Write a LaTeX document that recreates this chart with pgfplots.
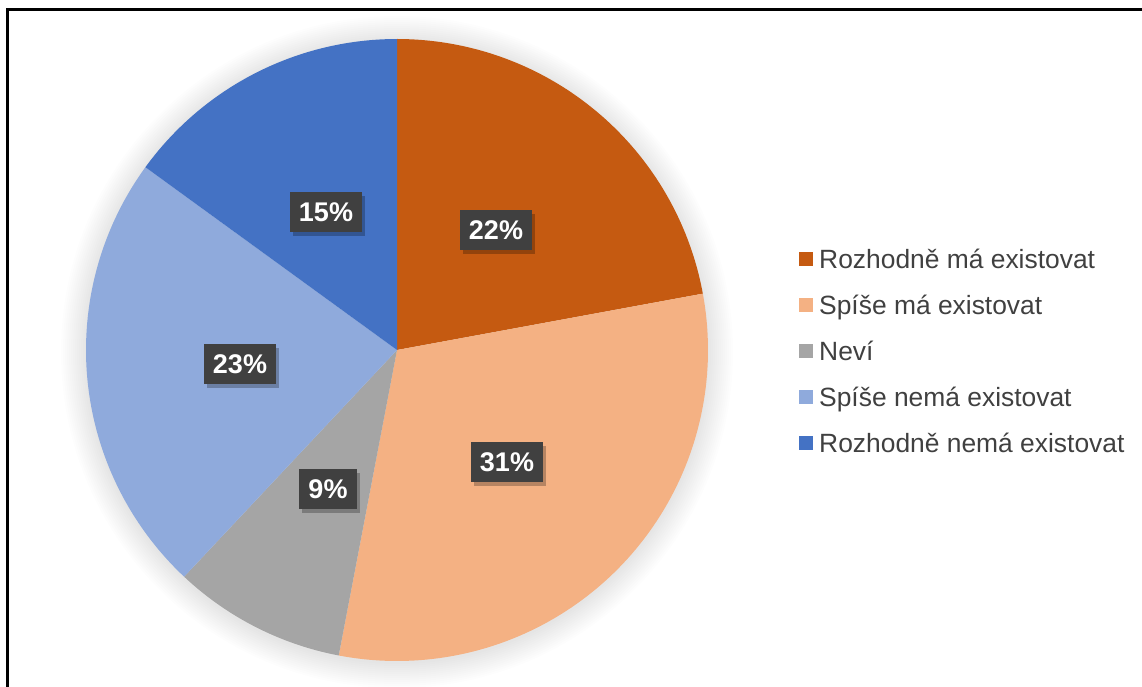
\documentclass[border=0pt]{standalone}
\usepackage{pgfplots}
\pgfplotsset{compat=1.18}
\usepackage{fontspec}
\setmainfont{Liberation Sans}
\usetikzlibrary{shadows}
\definecolor{cA}{HTML}{C55A11}
\definecolor{cB}{HTML}{F4B183}
\definecolor{cC}{HTML}{A5A5A5}
\definecolor{cD}{HTML}{8FAADC}
\definecolor{cE}{HTML}{4472C4}
\definecolor{txt}{HTML}{404040}
\definecolor{lbl}{HTML}{404040}
% values (percent)
\def\vA{22.1}\def\vB{30.9}\def\vC{9.0}\def\vD{23.0}\def\vE{15.0}
\newcommand{\pieslice}[4]{%
  \addplot[draw=none, fill=#1, domain=#2:#3, samples=90]
    ({397+311*cos(x)},{336+311*sin(x)}) -- (axis cs:397,336) -- cycle;
  \addlegendentry{#4}
}
\begin{document}
\begin{tikzpicture}
\pgfmathsetmacro\aA{90}
\pgfmathsetmacro\aB{\aA-3.6*\vA}
\pgfmathsetmacro\aC{\aB-3.6*\vB}
\pgfmathsetmacro\aD{\aC-3.6*\vC}
\pgfmathsetmacro\aE{\aD-3.6*\vD}
\pgfmathsetmacro\aF{\aE-3.6*\vE}
\begin{axis}[
  x=1pt, y=1pt, xmin=0, xmax=1142, ymin=0, ymax=686,
  scale only axis, hide axis, clip=false,
  legend image code/.code={\fill[#1] (0pt,-7pt) rectangle (14pt,7pt);},
  legend cell align=left,
  legend style={at={(axis cs:799,439.2)}, anchor=north west, draw=none, fill=none,
    inner sep=0pt, row sep=21.6pt, column sep=6pt,
    font=\fontsize{26.4}{30}\selectfont, text=txt,
    nodes={inner sep=0pt, text height=21.5pt, text depth=2.9pt}},
]
\pgfplotsinvokeforeach{336,334,...,312}{
  \fill[black, opacity=0.008] (axis cs:397,334) circle[radius=#1pt];
}
\pieslice{cA}{\aA}{\aB}{Rozhodně má existovat}
\pieslice{cB}{\aB}{\aC}{Spíše má existovat}
\pieslice{cC}{\aC}{\aD}{Neví}
\pieslice{cD}{\aD}{\aE}{Spíše nemá existovat}
\pieslice{cE}{\aE}{\aF}{Rozhodně nemá existovat}
\addplot[forget plot, draw=none, mark=none, nodes near coords, point meta=explicit symbolic,
  every node near coord/.append style={anchor=center, fill=lbl, text=white,
    font=\bfseries\fontsize{27}{32}\selectfont, inner xsep=9pt, inner ysep=0pt,
    minimum height=40pt, text height=19.5pt, text depth=0pt,
    drop shadow={shadow xshift=3pt, shadow yshift=-4pt, opacity=0.25, fill=black}}]
  coordinates {(496,456)[22\%] (507,224)[31\%] (328,197)[9\%] (240,322)[23\%] (326,474)[15\%]};
\draw[line width=3pt, black] (axis cs:7.5,-5) -- (axis cs:7.5,676.5) -- (axis cs:1150,676.5);
\end{axis}
\pgfresetboundingbox
\path[use as bounding box] (current axis.south west) rectangle (current axis.north east);
\end{tikzpicture}
\end{document}
